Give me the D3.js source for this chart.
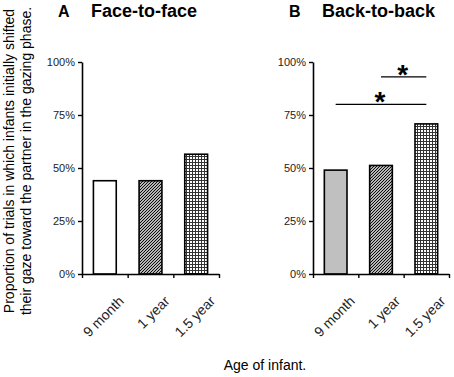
<!DOCTYPE html>
<html>
<head>
<meta charset="utf-8">
<script src="https://cdn.jsdelivr.net/npm/d3@7"></script>
<style>
  body { margin: 0; background: #fff; }
  svg { font-family: "Liberation Sans", Arial, sans-serif; }
</style>
</head>
<body>
<div id="chart"></div>
<script>
const categories = ["9 month", "1 year", "1.5 year"];
const faceValues = [0.44, 0.44, 0.565];
const backValues = [0.49, 0.512, 0.708];
const yTicks = [0, 0.25, 0.5, 0.75, 1];
const panelTitles = ["Face-to-face", "Back-to-back"];
const panelLetters = ["A", "B"];
// significance brackets for panel B
const sigPairs = [
  { from: "1 year", to: "1.5 year", level: 0.93 },
  { from: "9 month", to: "1.5 year", level: 0.80 },
];

const width = 454;
const height = 377;
const plotTop = 62, plotBottom = 274;

const svg = d3.select("#chart").append("svg")
  .attr("width", width).attr("height", height)
  .attr("viewBox", [0, 0, width, height]);

// fill patterns
const defs = svg.append("defs");
const hatch = defs.append("pattern")
  .attr("id", "hatch").attr("patternUnits", "userSpaceOnUse")
  .attr("width", 3).attr("height", 3);
hatch.append("rect").attr("width", 3).attr("height", 3).attr("fill", "#fff");
hatch.append("path")
  .attr("d", "M-1,1 l2,-2 M0,3 l3,-3 M2,4 l2,-2")
  .attr("stroke", "#000").attr("stroke-width", 1.1);

const grid = defs.append("pattern")
  .attr("id", "grid").attr("patternUnits", "userSpaceOnUse")
  .attr("width", 3).attr("height", 3);
grid.append("rect").attr("width", 3).attr("height", 3).attr("fill", "#fff");
grid.append("path")
  .attr("d", "M0,0.5 H3 M0.5,0 V3")
  .attr("stroke", "#333").attr("stroke-width", 1);

const fills = [
  ["#fff", "url(#hatch)", "url(#grid)"],
  ["#c0c0c0", "url(#hatch)", "url(#grid)"],
];

const y = d3.scaleLinear().domain([0, 1]).range([plotBottom, plotTop]);

function panel(values, x0, x1, idx) {
  const g = svg.append("g");
  const x = d3.scaleBand().domain(categories).range([x0, x1])
    .paddingInner(0.5).paddingOuter(0.25);
  const xb = d3.scaleLinear().domain([0, categories.length]).range([x0, x1]);

  g.selectAll("rect.bar")
    .data(values)
    .join("rect")
    .attr("class", "bar")
    .attr("x", (d, i) => x(categories[i]))
    .attr("width", x.bandwidth())
    .attr("y", d => y(d))
    .attr("height", d => y(0) - y(d))
    .attr("fill", (d, i) => fills[idx][i])
    .attr("stroke", "#000")
    .attr("stroke-width", 1.6);

  // y axis
  g.append("g")
    .attr("transform", `translate(${x0},0)`)
    .call(d3.axisLeft(y).tickValues(yTicks).tickFormat(d3.format(".0%"))
      .tickSize(4).tickSizeOuter(0))
    .call(a => a.select(".domain").attr("stroke-width", 1.6))
    .call(a => a.selectAll(".tick line").attr("stroke-width", 1.4))
    .call(a => a.selectAll(".tick text")
      .attr("font-size", 11).attr("fill", "#222")
      .attr("font-family", "Liberation Sans, Arial, sans-serif").attr("x", -7));

  // x axis with ticks between categories
  g.append("g")
    .attr("transform", `translate(0,${plotBottom})`)
    .call(d3.axisBottom(xb).tickValues(d3.range(categories.length + 1))
      .tickFormat("").tickSize(4).tickSizeOuter(0))
    .call(a => a.select(".domain").attr("stroke-width", 1.6))
    .call(a => a.selectAll(".tick line").attr("stroke-width", 1.4));

  g.selectAll("text.cat")
    .data(categories)
    .join("text")
    .attr("class", "cat")
    .attr("transform", d => `translate(${x(d) + x.bandwidth() / 2 + 20},${plotBottom + 28}) rotate(-45)`)
    .attr("text-anchor", "end")
    .attr("font-size", 14)
    .attr("fill", "#222")
    .text(d => d);

  svg.append("text")
    .attr("x", x0 - 24).attr("y", 17)
    .attr("font-size", 16).attr("font-weight", "bold")
    .text(panelLetters[idx]);
  svg.append("text")
    .attr("x", x0 + 9).attr("y", 17)
    .attr("font-size", 18).attr("font-weight", "bold")
    .text(panelTitles[idx]);

  return x;
}

panel(faceValues, 82, 219, 0);
const xB = panel(backValues, 313, 449, 1);

// significance brackets
const sig = svg.append("g");
sigPairs.forEach(p => {
  const a = xB(p.from) + xB.bandwidth() / 2;
  const b = xB(p.to) + xB.bandwidth() / 2;
  sig.append("line")
    .attr("x1", a).attr("x2", b)
    .attr("y1", y(p.level)).attr("y2", y(p.level))
    .attr("stroke", "#000").attr("stroke-width", 1.4);
  sig.append("text")
    .attr("x", (a + b) / 2 - 1).attr("y", y(p.level) + 7)
    .attr("text-anchor", "middle")
    .attr("font-size", 28).attr("font-weight", "bold")
    .text("*");
});

// axis titles
svg.append("text")
  .attr("transform", "translate(14,161) rotate(-90)")
  .attr("text-anchor", "middle")
  .attr("font-size", 14)
  .text("Proportion of trials in which infants initially shifted");
svg.append("text")
  .attr("transform", "translate(31,161) rotate(-90)")
  .attr("text-anchor", "middle")
  .attr("font-size", 14)
  .text("their gaze toward the partner in the gazing phase.");

svg.append("text")
  .attr("x", 265).attr("y", 370)
  .attr("text-anchor", "middle")
  .attr("font-size", 14)
  .text("Age of infant.");
</script>
</body>
</html>
